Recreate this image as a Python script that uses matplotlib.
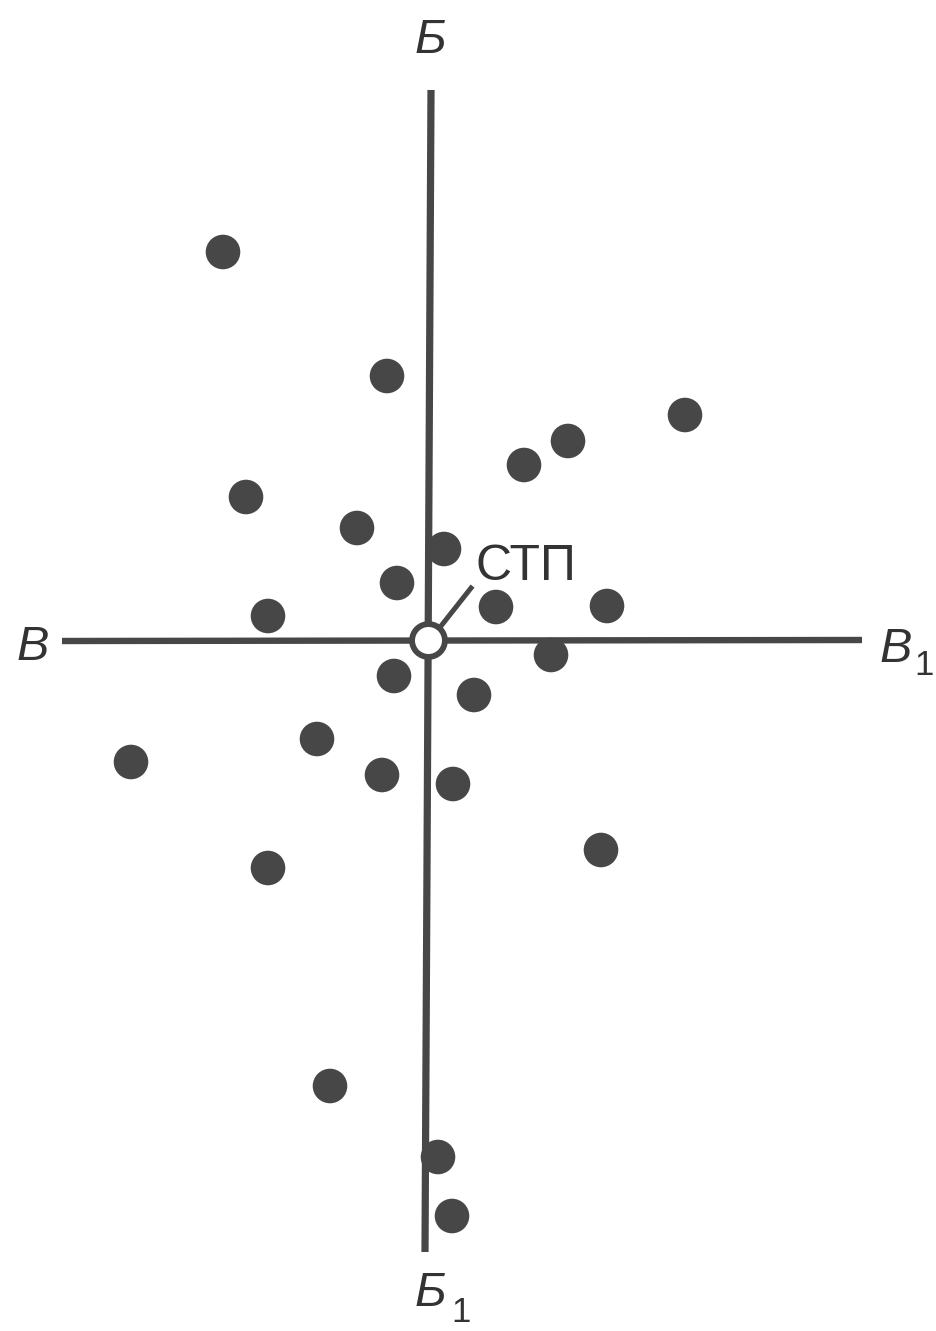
import matplotlib
matplotlib.use("Agg")
import matplotlib.pyplot as plt

# Hit positions (image-plane coordinates, y downward)
hit_x = [223, 387, 685, 568, 524, 246, 357, 444, 397, 268, 496, 607,
         551, 394, 474, 131, 317, 382, 453, 601, 268, 330, 438, 452]
hit_y = [252, 376, 415, 441, 465, 497, 528, 549, 583, 616, 607, 606,
         655, 676, 695, 762, 739, 775, 784, 850, 868, 1086, 1157, 1216]

# Mean point of impact (СТП)
stp_x, stp_y = 428, 640

# Axis line ends
vert_x = [431, 425]
vert_y = [90, 1252]
horiz_x = [62, 862]
horiz_y = [641, 640]

ink = "#474747"

fig = plt.figure(figsize=(9.36, 13.31), dpi=100)
ax = fig.add_axes([0, 0, 1, 1])
ax.set_xlim(0, 936)
ax.set_ylim(1331, 0)
ax.axis("off")

ax.plot(vert_x, vert_y, color=ink, lw=5.2, solid_capstyle="butt", zorder=1)
ax.plot(horiz_x, horiz_y, color=ink, lw=4.6, solid_capstyle="butt", zorder=1)

ax.scatter(hit_x, hit_y, s=620, color=ink, edgecolors="none", zorder=3)

ax.scatter([stp_x], [stp_y], s=560, facecolor="white", edgecolor=ink,
           linewidth=4.2, zorder=4)
ax.plot([441, 471], [626, 588], color=ink, lw=3.6, zorder=2)

ax.text(476, 580, "СТП", fontsize=36, family="Liberation Sans",
        color="#333333", ha="left", va="baseline")

lab = dict(fontsize=35, family="Liberation Sans", style="italic",
           color="#333333")
sub = dict(fontsize=25, family="Liberation Sans", color="#333333")
ax.text(430, 53, "Б", ha="center", va="baseline", **lab)
ax.text(430, 1306, "Б", ha="center", va="baseline", **lab)
ax.text(451, 1322, "1", ha="left", va="baseline", **sub)
ax.text(33, 660, "В", ha="center", va="baseline", **lab)
ax.text(896, 662, "В", ha="center", va="baseline", **lab)
ax.text(914, 675, "1", ha="left", va="baseline", **sub)

fig.savefig("out.png", dpi=100, facecolor="white")
